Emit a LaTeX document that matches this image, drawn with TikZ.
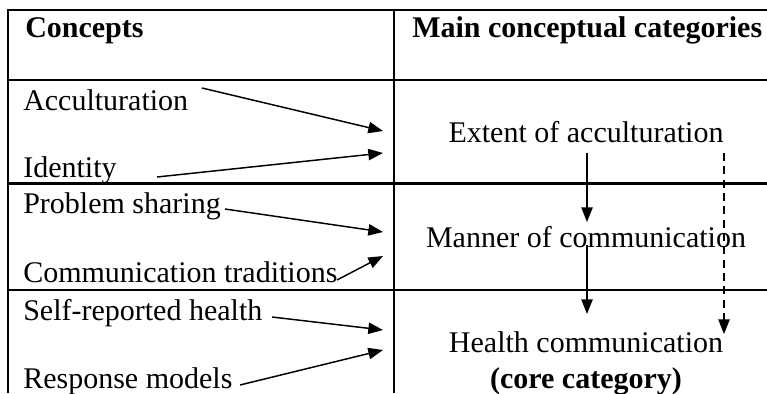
\documentclass[tikz,border=0pt]{standalone}
\usepackage{fontspec}
\setmainfont{Liberation Serif}
\usetikzlibrary{arrows.meta}
\begin{document}
\begin{tikzpicture}[x=0.75pt,y=-0.75pt,
  rule/.style={line width=2pt},
  txt/.style={anchor=base west,inner sep=0pt,font=\fontsize{22.5}{27}\selectfont},
  cat/.style={anchor=base,inner sep=0pt,font=\fontsize{22.5}{27}\selectfont},
  link/.style={line width=1.1pt,-{Triangle[length=11pt,width=8.5pt]}},
  dlink/.style={link,dash pattern=on 6pt off 4pt}]
\useasboundingbox (0,0) rectangle (767,393);

% table rules
\draw[rule] (767,10) -- (8,10) -- (8,393);
\draw[rule] (394,10) -- (394,393);
\draw[rule] (8,80) -- (767,80);
\draw[rule] (8,183.5) -- (767,183.5);
\draw[rule] (8,290) -- (767,290);

% headers
\node[txt,font=\fontsize{22.5}{27}\selectfont\bfseries] (hconc) at (25,37) {Concepts};
\node[txt,font=\fontsize{22.5}{27}\selectfont\bfseries] (hcat) at (412,37) {Main conceptual categories};

% concepts
\node[txt] (acc) at (23,110) {Acculturation};
\node[txt] (ident) at (23,177) {Identity};
\node[txt] (prob) at (23,213) {Problem sharing};
\node[txt] (comm) at (23,282) {Communication traditions};
\node[txt] (self) at (23,320) {Self-reported health};
\node[txt] (resp) at (23,388) {Response models};

% categories
\node[cat] (ext) at (586,142) {Extent of acculturation};
\node[cat] (man) at (586,247) {Manner of communication};
\node[cat] (hc) at (586,352) {Health communication};
\node[cat,font=\fontsize{22.5}{27}\selectfont\bfseries] (core) at (586,388) {(core category)};

% arrow ends
\coordinate (accS) at (202,88);   \coordinate (accT) at (383,131);
\coordinate (idS) at (157,177);   \coordinate (idT) at (383,153);
\coordinate (prS) at (225,209);   \coordinate (prT) at (383,232);
\coordinate (coS) at (337,280);   \coordinate (coT) at (383,256);
\coordinate (seS) at (272,317);   \coordinate (seT) at (383,330);
\coordinate (reS) at (240,385);   \coordinate (reT) at (383,350);

\draw[link] (accS) -- (accT);
\draw[link] (idS) -- (idT);
\draw[link] (prS) -- (prT);
\draw[link] (coS) -- (coT);
\draw[link] (seS) -- (seT);
\draw[link] (reS) -- (reT);

% links between categories
\coordinate (e1) at (587,153); \coordinate (m1) at (587,222);
\coordinate (m2) at (587,245); \coordinate (h1) at (587,314);
\coordinate (e2) at (724,153); \coordinate (h2) at (724,334);
\draw[link] (e1) -- (m1);
\draw[link] (m2) -- (h1);
\draw[dlink] (e2) -- (h2);
\end{tikzpicture}
\end{document}
